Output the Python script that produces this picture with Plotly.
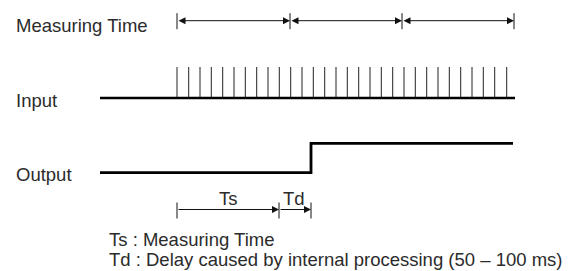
import plotly.graph_objects as go

# ---- data (x in horizontal time units) ----
row_labels = ["Measuring Time", "Input", "Output"]
measure_ticks = [177, 290, 402, 514]
pulse_times = [177, 188.7, 200, 211.3, 222.7, 234, 245.3, 256.7, 268, 279.3,
               290.7, 302, 313.3, 324.7, 336, 347.3, 358.7, 370, 381.3, 392.7,
               404, 415.3, 426.7, 438, 449.3, 460.7, 472, 483.3, 494.7, 506.7]
input_span = [100, 515]
output_x = [100, 311, 311, 513]
output_level = [0, 0, 1, 1]
ts_td_marks = [177, 279, 311]
ts_td_labels = ["Ts", "Td"]
notes = ["Ts : Measuring Time",
         "Td : Delay caused by internal processing (50 \u2013 100 ms)"]

# ---- layout constants ----
W, H = 572, 271
Y_MEAS = 20.7
Y_IN = 98
PULSE_H = 31
Y_OUT = 172.7
OUT_STEP = 29.4
Y_TS = 209.5
FONT = "Liberation Sans, Arial, Helvetica, sans-serif"
TXT = "#2b2b2b"
FS = 18.5

fig = go.Figure()

# measuring time tick marks
tx, ty = [], []
for t in measure_ticks:
    tx += [t, t, None]
    ty += [Y_MEAS - 7.5, Y_MEAS + 8.5, None]
fig.add_trace(go.Scatter(x=tx, y=ty, mode="lines",
                         line=dict(color="#111", width=1), hoverinfo="skip"))

# input pulses
px, py = [], []
for p in pulse_times:
    px += [p, p, None]
    py += [Y_IN, Y_IN - PULSE_H, None]
fig.add_trace(go.Scatter(x=px, y=py, mode="lines",
                         line=dict(color="#222", width=1), hoverinfo="skip"))

# input baseline
fig.add_trace(go.Scatter(x=input_span, y=[Y_IN, Y_IN], mode="lines",
                         line=dict(color="#000", width=2.6), hoverinfo="skip"))

# output step
fig.add_trace(go.Scatter(x=output_x, y=[Y_OUT - l * OUT_STEP for l in output_level],
                         mode="lines", line=dict(color="#000", width=2.8),
                         hoverinfo="skip"))

# Ts / Td tick marks
mx, my = [], []
for m in ts_td_marks:
    mx += [m, m, None]
    my += [Y_TS - 7, Y_TS + 9, None]
fig.add_trace(go.Scatter(x=mx, y=my, mode="lines",
                         line=dict(color="#111", width=1), hoverinfo="skip"))

ann = []
# measuring time double arrows
for a, b in zip(measure_ticks[:-1], measure_ticks[1:]):
    ann.append(dict(x=b, y=Y_MEAS, ax=a, ay=Y_MEAS, xref="x", yref="y",
                    axref="x", ayref="y", text="", showarrow=True,
                    arrowhead=2, startarrowhead=2, arrowside="end+start",
                    arrowsize=1.4, startarrowsize=1.4, arrowwidth=1,
                    arrowcolor="#111", standoff=0, startstandoff=0))
# Ts / Td arrows
for a, b in zip(ts_td_marks[:-1], ts_td_marks[1:]):
    ann.append(dict(x=b, y=Y_TS, ax=a, ay=Y_TS, xref="x", yref="y",
                    axref="x", ayref="y", text="", showarrow=True,
                    arrowhead=2, arrowsize=1.4, arrowwidth=1,
                    arrowcolor="#111", standoff=0))
# Ts / Td labels
for lab, a, b in zip(ts_td_labels, ts_td_marks[:-1], ts_td_marks[1:]):
    ann.append(dict(x=(a + b) / 2 + (0 if lab == "Ts" else -1), y=Y_TS - 11,
                    xref="x", yref="y", text=lab, showarrow=False,
                    xanchor="center", yanchor="middle",
                    font=dict(family=FONT, size=FS, color=TXT)))

# row labels
for lab, yy in zip(row_labels, [25, 100, 174.5]):
    ann.append(dict(x=14, y=yy, xref="x", yref="y", text=lab, showarrow=False,
                    xanchor="left", yanchor="middle",
                    font=dict(family=FONT, size=FS, color=TXT)))

# notes
for note, yy in zip(notes, [239, 259.5]):
    ann.append(dict(x=107, y=yy, xref="x", yref="y", text=note, showarrow=False,
                    xanchor="left", yanchor="middle",
                    font=dict(family=FONT, size=FS, color=TXT)))

fig.update_layout(
    width=W, height=H, margin=dict(l=0, r=0, t=0, b=0),
    paper_bgcolor="white", plot_bgcolor="white", showlegend=False,
    xaxis=dict(range=[0, W], visible=False, fixedrange=True),
    yaxis=dict(range=[H, 0], visible=False, fixedrange=True),
    annotations=ann,
)

fig.write_html(
    "out.html",
    config={"displayModeBar": False, "staticPlot": True},
    post_script="document.body.style.margin='0';document.body.style.overflow='hidden';",
)
